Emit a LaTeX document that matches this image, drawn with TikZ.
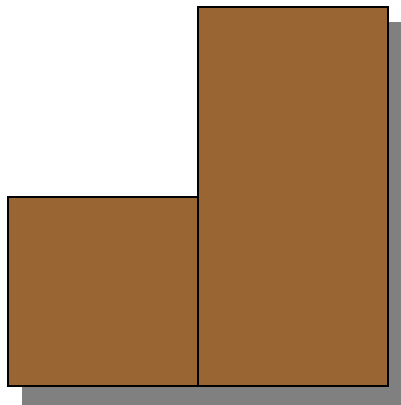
\documentclass[tikz,border=0pt]{standalone}
\usepackage{xcolor}
\usepackage{tikz}
\usetikzlibrary{positioning, calc, backgrounds}

\definecolor{woodbrown}{RGB}{153,102,51}
\definecolor{shadowgray}{RGB}{128,128,128}

\begin{document}
\begin{tikzpicture}[
    x=1pt, y=-1pt,
    block/.style={rectangle, draw=black, line width=2pt, fill=woodbrown, minimum width=190pt, inner sep=0pt, outer sep=0pt},
    shade/.style={fill=shadowgray}
]
\useasboundingbox (0,0) rectangle (401,405);

\node[block, minimum height=189pt, anchor=south west] (low) at (8,386) {};
\node[block, minimum height=379pt, anchor=south west] (tall) at (low.south east) {};

% shadow behind the blocks
\begin{scope}[on background layer]
\clip (0,0) rectangle (401,405);
\fill[shade] ($(low.south west)+(14,0)$) rectangle ($(tall.south east)+(14,20)$);
\fill[shade] ($(tall.north east)+(0,15)$) rectangle ($(tall.south east)+(14,0)$);
\end{scope}

\end{tikzpicture}
\end{document}
